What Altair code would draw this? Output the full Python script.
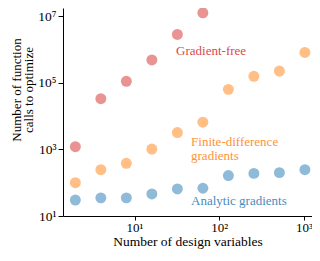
import altair as alt
import pandas as pd

# --- data ---
n_vars = [2, 4, 8, 16, 32, 64, 128, 256, 512, 1024]
gradient_free = [1200, 33000, 110000, 480000, 2.8e6, 1.25e7]
finite_diff = [100, 245, 380, 1020, 3200, 6500, 63000, 155000, 224000, 810000]
analytic = [30, 35, 35, 46, 65, 68, 163, 190, 200, 245]

series_names = ["Gradient-free", "Finite-difference", "Analytic"]
series_colors = ["#d62728", "#ff7f0e", "#1f77b4"]

label_text = ["Gradient-free", "Finite-difference\ngradients", "Analytic gradients"]
label_series = ["Gradient-free", "Finite-difference", "Analytic"]
label_x = [30.9, 46.4, 46.4]
label_y = [8.9e5, 1660, 28.2]

x_ticks = [10, 100, 1000]
y_ticks = [10, 1000, 1e5, 1e7]

x_title = "Number of design variables"
y_title_lines = ["Number of function", "calls to optimize"]

rows = []
for name, vals in zip(series_names, [gradient_free, finite_diff, analytic]):
    for xv, yv in zip(n_vars, vals):
        rows.append({"series": name, "n": xv, "calls": yv})
df = pd.DataFrame(rows)

lab = pd.DataFrame({"text": label_text, "series": label_series, "n": label_x, "calls": label_y})

FONT = "Liberation Serif"
FS = 13.5
color_scale = alt.Scale(domain=series_names, range=series_colors)

sup = ("{'10':'10\u00b9','100':'10\u00b2','1000':'10\u00b3','100000':'10\u2075',"
       "'10000000':'10\u2077'}[''+datum.value]")

x_enc = alt.X(
    "n:Q",
    scale=alt.Scale(type="log", domain=[1.43, 1242], nice=False),
    axis=alt.Axis(
        values=x_ticks, labelExpr=sup, title=x_title,
        grid=False, tickSize=4, labelPadding=1, domainColor="black", tickColor="black",
        labelColor="black", titleColor="black", labelFont=FONT, titleFont=FONT,
        labelFontSize=13, titleFontSize=FS, titleFontWeight="normal",
        titleBaseline="top", titleY=18, labelFlush=False,
    ),
)
y_enc = alt.Y(
    "calls:Q",
    scale=alt.Scale(type="log", domain=[10, 1.74e7], nice=False),
    axis=alt.Axis(
        values=y_ticks, labelExpr=sup, title=None,
        grid=False, tickSize=5, labelPadding=2, domainColor="black", tickColor="black",
        labelColor="black", labelFont=FONT, labelFontSize=FS, labelFlush=False,
    ),
)

points = alt.Chart(df).mark_circle(size=120, opacity=0.5).encode(
    x=x_enc, y=y_enc,
    color=alt.Color("series:N", scale=color_scale, legend=None),
)

texts = alt.Chart(lab).mark_text(
    align="left", baseline="middle", font=FONT, fontSize=13, opacity=0.85,
    lineBreak="\n", lineHeight=13.5,
).encode(
    x="n:Q", y="calls:Q", text="text:N",
    color=alt.Color("series:N", scale=color_scale, legend=None),
)

ytitle1 = alt.Chart(pd.DataFrame({"t": [y_title_lines[0]]})).mark_text(
    angle=270, align="center", baseline="middle", font=FONT, fontSize=13, color="black",
).encode(x=alt.value(-46), y=alt.value(82), text="t:N")
ytitle2 = alt.Chart(pd.DataFrame({"t": [y_title_lines[1]]})).mark_text(
    angle=270, align="center", baseline="middle", font=FONT, fontSize=13, color="black",
).encode(x=alt.value(-34), y=alt.value(82), text="t:N")

chart = (points + texts + ytitle1 + ytitle2).properties(
    width=249, height=208,
    autosize=alt.AutoSizeParams(type="none"),
    padding={"left": 55, "top": 0, "right": 0, "bottom": 37},
).configure_view(stroke=None)

chart.save("out.html", embed_options={"renderer": "svg", "actions": False})
